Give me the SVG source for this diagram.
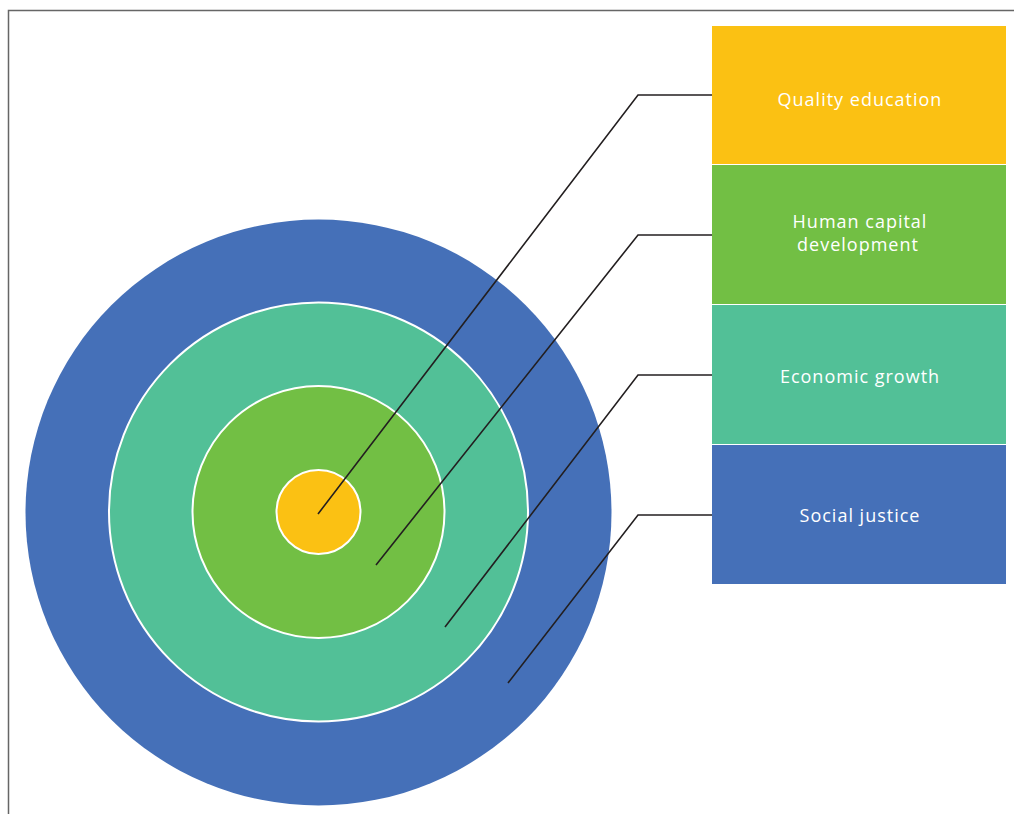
<svg xmlns="http://www.w3.org/2000/svg" width="1014" height="814" viewBox="0 0 1014 814">
<style>
.lbl{font-family:"Open Sans","Liberation Sans",sans-serif;font-size:18px;letter-spacing:1px;fill:#ffffff;text-anchor:middle}
.ring{stroke:#ffffff;stroke-width:2}
.conn{fill:none;stroke:#231f20;stroke-width:1.6}
</style>
<rect width="1014" height="814" fill="#ffffff"/>
<path d="M8.5 814 V10.5 H1014" fill="none" stroke="#666666" stroke-width="1.5"/>
<g id="target">
<circle cx="318.5" cy="512.5" r="293" fill="#4570b8"/>
<circle class="ring" cx="318.5" cy="512" r="209.5" fill="#52c097"/>
<circle class="ring" cx="318.5" cy="512" r="126" fill="#72bf44"/>
<circle class="ring" cx="318.5" cy="512" r="42" fill="#fbc113"/>
</g>
<g id="quality-education">
<rect x="712" y="26" width="294" height="138" fill="#fbc113"/>
<text class="lbl" x="860" y="106">Quality education</text>
</g>
<g id="human-capital">
<rect x="712" y="165" width="294" height="139" fill="#72bf44"/>
<text class="lbl" x="860" y="228">Human capital</text>
<text class="lbl" x="858" y="251">development</text>
</g>
<g id="economic-growth">
<rect x="712" y="305" width="294" height="139" fill="#52c097"/>
<text class="lbl" x="860" y="383">Economic growth</text>
</g>
<g id="social-justice">
<rect x="712" y="445" width="294" height="139" fill="#4570b8"/>
<text class="lbl" x="860" y="522">Social justice</text>
</g>
<g id="connectors">
<polyline class="conn" points="318,514 638,95 712,95"/>
<polyline class="conn" points="376,565 638,235 712,235"/>
<polyline class="conn" points="445,627 638,375 712,375"/>
<polyline class="conn" points="508,683 638,515 712,515"/>
</g>
</svg>
